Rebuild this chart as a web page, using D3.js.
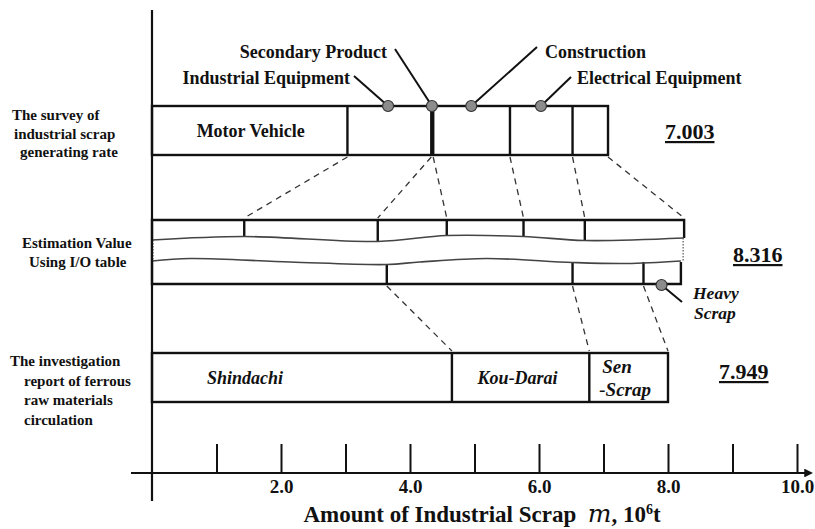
<!DOCTYPE html>
<html>
<head>
<meta charset="utf-8">
<script src="https://cdn.jsdelivr.net/npm/d3@7"></script>
<style>
  body { margin: 0; background: #fff; }
  text { font-family: "Liberation Serif", "Times New Roman", serif; font-weight: bold; fill: #111; }
</style>
</head>
<body>
<svg id="chart" width="815" height="529"></svg>
<script>
// ---- data (10^6 t) ----
let surveyBounds = [0, 3.03, 4.33, 4.36, 5.55, 6.52, 7.07];
let ioUpperBounds = [0, 1.43, 3.50, 4.57, 5.76, 6.71, 8.25];
let ioLowerBounds = [0, 3.64, 6.52, 7.62, 8.20];
let reportBounds = [0, 4.65, 6.78, 8.00];
let totals = ['7.003', '8.316', '7.949'];

let surveyTags = [
  { name: 'Industrial Equipment', at: 3.66 },
  { name: 'Secondary Product', at: 4.34 },
  { name: 'Construction', at: 4.95 },
  { name: 'Electrical Equipment', at: 6.03 }
];
let heavyScrapAt = 7.90;
let reportNames = ['Shindachi', 'Kou-Darai'];

// dashed links: [from, to]
let surveyToIo = [[3.03, 1.43], [4.33, 3.50], [4.36, 4.57], [5.55, 5.76], [6.52, 6.71], [7.07, 8.25]];
let ioToReport = [[3.64, 4.65], [6.52, 6.78], [7.62, 8.00]];

// break (wavy) lines in the I/O bar: [value, y]
let waveUpper = [[0, 240], [1.43, 236.5], [3.50, 241.5], [4.57, 235.5], [5.76, 236.5], [6.71, 240.5], [8.24, 238]];
let waveLower = [[0, 261], [0.59, 258.5], [2.14, 262], [3.64, 264.5], [4.15, 262], [5.19, 258.5], [6.52, 262.5], [7.36, 263.5], [8.20, 261]];

let tickValues = [1, 2, 3, 4, 5, 6, 7, 8, 9, 10];

// ---- layout ----
let svg = d3.select('#chart');
let x = d3.scaleLinear().domain([0, 10]).range([152, 797]);
let axisY = 473;
let rows = {
  survey: { top: 106, bottom: 155 },
  io: { top: 220, bottom: 284 },
  report: { top: 353, bottom: 402 }
};

// arrow marker
svg.append('defs').append('marker')
  .attr('id', 'arrow')
  .attr('viewBox', '0 0 10 10')
  .attr('refX', 2).attr('refY', 5)
  .attr('markerWidth', 4).attr('markerHeight', 4)
  .attr('markerUnits', 'strokeWidth')
  .attr('orient', 'auto')
  .append('path').attr('d', 'M0,0L10,5L0,10Z').attr('fill', '#111');

// dashed connectors (drawn first, under the bars)
let dash = svg.append('g').attr('stroke', '#333').attr('stroke-width', 1.3).attr('stroke-dasharray', '6,5');
dash.selectAll('line.a').data(surveyToIo).enter().append('line')
  .attr('x1', d => x(d[0])).attr('y1', rows.survey.bottom + 2)
  .attr('x2', d => x(d[1])).attr('y2', rows.io.top - 2);
dash.selectAll('line.b').data(ioToReport).enter().append('line')
  .attr('x1', d => x(d[0])).attr('y1', rows.io.bottom + 2)
  .attr('x2', d => x(d[1])).attr('y2', rows.report.top - 2);

// generic segmented bar
function segBar(bounds, top, bottom) {
  let g = svg.append('g').attr('stroke', '#111').attr('stroke-width', 2.4).attr('fill', 'none');
  g.append('rect')
    .attr('x', x(bounds[0])).attr('y', top)
    .attr('width', x(bounds[bounds.length - 1]) - x(bounds[0]))
    .attr('height', bottom - top);
  g.selectAll('line').data(bounds.slice(1, -1)).enter().append('line')
    .attr('x1', d => x(d)).attr('x2', d => x(d))
    .attr('y1', top).attr('y2', bottom);
  return g;
}

segBar(surveyBounds, rows.survey.top, rows.survey.bottom);
segBar(reportBounds, rows.report.top, rows.report.bottom);

// I/O bar with a break
let io = svg.append('g').attr('stroke', '#111').attr('stroke-width', 2.4).attr('fill', 'none');
let ioMid = 250;
let upEnd = ioUpperBounds[ioUpperBounds.length - 1];
let loEnd = ioLowerBounds[ioLowerBounds.length - 1];
io.append('path')
  .attr('d', `M${x(0)},${ioMid}V${rows.io.top}H${x(upEnd)}V${ioMid}`);
io.append('path')
  .attr('d', `M${x(0)},${ioMid}V${rows.io.bottom}H${x(loEnd)}V${ioMid}`);
io.selectAll('line.u').data(ioUpperBounds.slice(1, -1)).enter().append('line')
  .attr('x1', d => x(d)).attr('x2', d => x(d))
  .attr('y1', rows.io.top).attr('y2', ioMid);
io.selectAll('line.l').data(ioLowerBounds.slice(1, -1)).enter().append('line')
  .attr('x1', d => x(d)).attr('x2', d => x(d))
  .attr('y1', ioMid).attr('y2', rows.io.bottom);

// white gap between the waves, then the waves
let waveLine = d3.line().x(d => x(d[0])).y(d => d[1]).curve(d3.curveCatmullRom);
let lowerByX = waveLower.slice();
let gapArea = d3.area()
  .x(d => x(d[0]))
  .y0(d => d[1])
  .y1(d => {
    // y of lower wave at this value (linear between read points)
    let i = d3.bisector(p => p[0]).left(lowerByX, d[0]);
    if (i <= 0) return lowerByX[0][1];
    if (i >= lowerByX.length) return lowerByX[lowerByX.length - 1][1];
    let a = lowerByX[i - 1], b = lowerByX[i];
    return a[1] + (b[1] - a[1]) * (d[0] - a[0]) / (b[0] - a[0]);
  })
  .curve(d3.curveCatmullRom);
svg.append('path').datum(waveUpper.concat([[upEnd + 0.05, 238]]))
  .attr('d', gapArea).attr('fill', '#fff').attr('stroke', 'none');
svg.append('rect')
  .attr('x', x(loEnd) - 3).attr('y', 238).attr('width', 12).attr('height', 24)
  .attr('fill', '#fff');

svg.selectAll('path.wave').data([waveUpper, waveLower]).enter().append('path')
  .attr('class', 'wave')
  .attr('d', waveLine)
  .attr('fill', 'none').attr('stroke', '#444').attr('stroke-width', 1.6);
svg.append('line')
  .attr('x1', x(upEnd) - 1).attr('x2', x(upEnd) - 1)
  .attr('y1', 238).attr('y2', 262)
  .attr('stroke', '#555').attr('stroke-width', 1.2).attr('stroke-dasharray', '1.5,1.5');
svg.append('line')
  .attr('x1', x(0) + 1).attr('x2', x(0) + 1)
  .attr('y1', 240).attr('y2', 261)
  .attr('stroke', '#555').attr('stroke-width', 1.2).attr('stroke-dasharray', '1.5,1.5');

// ---- axes ----
let xAxis = d3.axisBottom(x)
  .tickValues(tickValues)
  .tickSizeInner(-29)
  .tickSizeOuter(0)
  .tickPadding(7)
  .tickFormat(d => d % 2 === 0 ? d.toFixed(1) : '');

let ax = svg.append('g')
  .attr('transform', `translate(0,${axisY})`)
  .call(xAxis);
ax.select('.domain').remove();
ax.selectAll('.tick line').attr('stroke', '#111').attr('stroke-width', 2);
ax.selectAll('.tick text')
  .attr('fill', '#111')
  .style('font-family', '"Liberation Serif", "Times New Roman", serif')
  .style('font-weight', 'bold')
  .style('font-size', '19px');

svg.append('line')
  .attr('x1', 131).attr('x2', 806)
  .attr('y1', axisY).attr('y2', axisY)
  .attr('stroke', '#111').attr('stroke-width', 2.2)
  .attr('marker-end', 'url(#arrow)');
svg.append('line')
  .attr('x1', x(0)).attr('x2', x(0))
  .attr('y1', 10).attr('y2', 501)
  .attr('stroke', '#111').attr('stroke-width', 2.2);

let title = svg.append('text')
  .attr('x', 482).attr('y', 522)
  .attr('text-anchor', 'middle')
  .style('font-size', '23px');
title.append('tspan').text('Amount of Industrial Scrap\u00a0\u00a0');
title.append('tspan').text('m')
  .style('font-style', 'italic').style('font-weight', 'normal').style('font-size', '25px')
  .style('font-family', '"DejaVu Serif", serif');
title.append('tspan').text(', 10');
title.append('tspan').text('6').attr('dy', -8).style('font-size', '14px');
title.append('tspan').text('t').attr('dy', 8);

// ---- row labels on the left ----
let rowLabels = [
  { lines: ['The survey of', 'industrial scrap', 'generating rate'], xs: [12, 14, 20], y0: 120, step: 18.5 },
  { lines: ['Estimation Value', 'Using I/O table'], xs: [22, 29], y0: 248, step: 19 },
  { lines: ['The investigation', 'report of ferrous', 'raw materials', 'circulation'], xs: [10, 24, 24, 24], y0: 366, step: 19.5 }
];
rowLabels.forEach(r => {
  svg.append('g').selectAll('text').data(r.lines).enter().append('text')
    .attr('x', (d, i) => r.xs[i])
    .attr('y', (d, i) => r.y0 + i * r.step)
    .style('font-size', '15px')
    .text(d => d);
});

// ---- labels inside bars ----
svg.append('text')
  .attr('x', (x(surveyBounds[0]) + x(surveyBounds[1])) / 2 + 1)
  .attr('y', (rows.survey.top + rows.survey.bottom) / 2 + 6)
  .attr('text-anchor', 'middle')
  .style('font-size', '18px')
  .text('Motor Vehicle');

svg.selectAll('text.rep').data(reportNames).enter().append('text')
  .attr('class', 'rep')
  .attr('x', (d, i) => i === 0 ? 245 : (x(reportBounds[1]) + x(reportBounds[2])) / 2 - 3)
  .attr('y', (rows.report.top + rows.report.bottom) / 2 + 6)
  .attr('text-anchor', 'middle')
  .style('font-size', '18px').style('font-style', 'italic')
  .text(d => d);

let sen = svg.append('text')
  .attr('x', x(reportBounds[2]) + 13)
  .attr('y', rows.report.top + 20)
  .style('font-size', '19px').style('font-style', 'italic');
sen.append('tspan').text('Sen');
sen.append('tspan').attr('x', x(reportBounds[2]) + 10).attr('dy', 23).text('-Scrap');

// ---- totals ----
let totalYs = [139, 262, 379];
let totalXs = [665, 733, 719];
svg.selectAll('text.tot').data(totals).enter().append('text')
  .attr('class', 'tot')
  .attr('x', (d, i) => totalXs[i])
  .attr('y', (d, i) => totalYs[i])
  .style('font-size', '22px')
  .style('text-decoration', 'underline')
  .text(d => d);

// ---- callout dots + leaders ----
let tagLayout = [
  { lx: 354, ly: 76, tx: 350, ty: 84, anchor: 'end' },
  { lx: 395, ly: 49, tx: 387, ty: 58, anchor: 'end' },
  { lx: 537, ly: 47, tx: 545, ty: 58, anchor: 'start' },
  { lx: 571, ly: 77, tx: 577, ty: 84, anchor: 'start' }
];
let tags = svg.append('g');
tags.selectAll('line').data(surveyTags).enter().append('line')
  .attr('x1', (d, i) => tagLayout[i].lx).attr('y1', (d, i) => tagLayout[i].ly)
  .attr('x2', d => x(d.at)).attr('y2', rows.survey.top)
  .attr('stroke', '#111').attr('stroke-width', 2);
tags.selectAll('text').data(surveyTags).enter().append('text')
  .attr('x', (d, i) => tagLayout[i].tx).attr('y', (d, i) => tagLayout[i].ty)
  .attr('text-anchor', (d, i) => tagLayout[i].anchor)
  .style('font-size', '18px')
  .text(d => d.name);

svg.append('line')
  .attr('x1', x(heavyScrapAt)).attr('y1', rows.io.bottom + 1)
  .attr('x2', 682).attr('y2', 302)
  .attr('stroke', '#111').attr('stroke-width', 2);
let heavy = svg.append('text')
  .attr('x', 693).attr('y', 299)
  .style('font-size', '17.5px').style('font-style', 'italic');
heavy.append('tspan').text('Heavy');
heavy.append('tspan').attr('x', 694).attr('dy', 20).text('Scrap');

let dots = surveyTags.map(d => [d.at, rows.survey.top]).concat([[heavyScrapAt, rows.io.bottom + 1]]);
svg.selectAll('circle.dot').data(dots).enter().append('circle')
  .attr('class', 'dot')
  .attr('cx', d => x(d[0])).attr('cy', d => d[1])
  .attr('r', 5.5)
  .attr('fill', '#8c8c8c').attr('stroke', '#333').attr('stroke-width', 1.2);
</script>
</body>
</html>
